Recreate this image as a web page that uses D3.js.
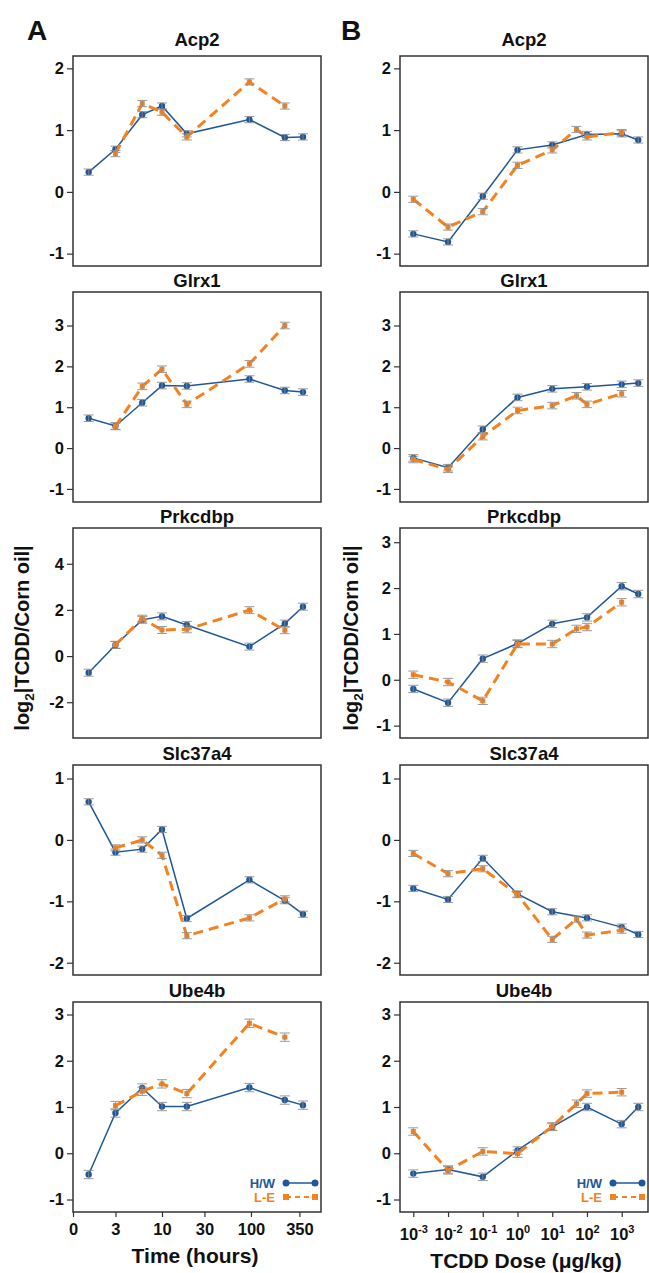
<!DOCTYPE html>
<html>
<head>
<meta charset="utf-8">
<script src="https://cdn.jsdelivr.net/npm/d3@7"></script>
<style>
body { margin: 0; background: #fff; }
text { font-family: "Liberation Sans", Arial, Helvetica, sans-serif; font-weight: bold; fill: #111; }
</style>
</head>
<body>
<svg id="chart"></svg>
<script>
// genes shown in each row
var genes = ['Acp2', 'Glrx1', 'Prkcdbp', 'Slc37a4', 'Ube4b']

// time course (hours) - column A
var timeHW = [1.5, 3, 6, 10, 19, 96, 240, 384]
var timeLE = [3, 6, 10, 19, 96, 240]
var timeValsHW = [
  [0.32, 0.69, 1.25, 1.39, 0.94, 1.17, 0.88, 0.89],
  [0.73, 0.54, 1.11, 1.53, 1.52, 1.69, 1.41, 1.37],
  [-0.72, 0.48, 1.57, 1.72, 1.35, 0.41, 1.41, 2.14],
  [0.62, -0.20, -0.15, 0.17, -1.28, -0.65, -0.99, -1.21],
  [-0.46, 0.87, 1.41, 1.01, 1.01, 1.42, 1.15, 1.04]
]
var timeValsLE = [
  [0.62, 1.43, 1.29, 0.89, 1.78, 1.39],
  [0.53, 1.51, 1.93, 1.07, 2.06, 3.00],
  [0.49, 1.62, 1.13, 1.16, 1.99, 1.12],
  [-0.13, 0.00, -0.25, -1.56, -1.27, -0.96],
  [1.03, 1.34, 1.50, 1.29, 2.81, 2.51]
]
var timeErr = [0.05, 0.08, 0.15, 0.05, 0.09]

// dose response (ug/kg) - column B
var doseHW = [0.001, 0.01, 0.1, 1, 10, 100, 1000, 3000]
var doseLE = [0.001, 0.01, 0.1, 1, 10, 50, 100, 1000]
var doseValsHW = [
  [-0.68, -0.81, -0.07, 0.68, 0.76, 0.93, 0.94, 0.84],
  [-0.24, -0.48, 0.46, 1.24, 1.45, 1.50, 1.56, 1.59],
  [-0.20, -0.50, 0.46, 0.79, 1.22, 1.36, 2.04, 1.87],
  [-0.79, -0.97, -0.30, -0.88, -1.17, -1.27, -1.42, -1.54],
  [-0.44, -0.35, -0.51, 0.06, 0.57, 1.00, 0.63, 1.00]
]
var doseValsLE = [
  [-0.12, -0.57, -0.32, 0.43, 0.68, 1.01, 0.89, 0.96],
  [-0.28, -0.52, 0.28, 0.92, 1.04, 1.28, 1.07, 1.33],
  [0.11, -0.05, -0.46, 0.78, 0.78, 1.11, 1.15, 1.69],
  [-0.22, -0.55, -0.47, -0.89, -1.62, -1.29, -1.55, -1.47],
  [0.47, -0.37, 0.04, -0.01, 0.58, 1.07, 1.29, 1.32]
]
var doseErr = [0.05, 0.08, 0.08, 0.05, 0.08]

// axes
var yDomainsA = [[-1.2, 2.2], [-1.32, 3.82], [-3.55, 5.55], [-2.2, 1.22], [-1.27, 3.27]]
var yDomainsB = [[-1.2, 2.2], [-1.32, 3.82], [-1.27, 3.31], [-2.2, 1.22], [-1.27, 3.27]]
var yTicksA = [[-1, 0, 1, 2], [-1, 0, 1, 2, 3], [-2, 0, 2, 4], [-2, -1, 0, 1], [-1, 0, 1, 2, 3]]
var yTicksB = [[-1, 0, 1, 2], [-1, 0, 1, 2, 3], [-1, 0, 1, 2, 3], [-2, -1, 0, 1], [-1, 0, 1, 2, 3]]
var timeTicks = [1, 3, 10, 30, 100, 350]
var timeTickLabels = ['0', '3', '10', '30', '100', '350']
var doseTicks = [-3, -2, -1, 0, 1, 2, 3]

var svgWidth = 649, svgHeight = 1273
var panelW = 248, panelH = 210
var colLeft = [73, 400]
var rowTop = [56, 292, 528, 765, 1002]
var blue = '#1f5799', orange = '#f58220', errGrey = '#8a8a8a'

var svg = d3.select('#chart')
  .attr('width', svgWidth)
  .attr('height', svgHeight)

var xTime = d3.scaleLog().domain([1, 612]).range([0, panelW])
var xDose = d3.scaleLog().domain([Math.pow(10, -3.383), Math.pow(10, 3.757)]).range([0, panelW])

function drawSeries(g, x, y, xs, ys, err, color, dashed, square) {
  var pts = xs.map(function(d, i) { return [d, ys[i]] })
  var line = d3.line()
    .x(function(d) { return x(d[0]) })
    .y(function(d) { return y(d[1]) })
  g.append('path')
    .datum(pts)
    .attr('d', line)
    .attr('fill', 'none')
    .attr('stroke', color)
    .attr('stroke-width', dashed ? 3 : 1.5)
    .attr('stroke-dasharray', dashed ? '10,6' : null)

  if (square) {
    g.selectAll(null).data(pts).enter().append('rect')
      .attr('x', function(d) { return x(d[0]) - 2.5 })
      .attr('y', function(d) { return y(d[1]) - 2.5 })
      .attr('width', 5).attr('height', 5)
      .attr('fill', color)
  } else {
    g.selectAll(null).data(pts).enter().append('circle')
      .attr('cx', function(d) { return x(d[0]) })
      .attr('cy', function(d) { return y(d[1]) })
      .attr('r', 3.2)
      .attr('fill', color)
  }

  // error bars on top, grey like the original
  var eb = g.selectAll(null).data(pts).enter().append('g')
    .attr('stroke', errGrey).attr('stroke-width', 1).attr('opacity', 0.85)
  eb.append('line')
    .attr('x1', function(d) { return x(d[0]) }).attr('x2', function(d) { return x(d[0]) })
    .attr('y1', function(d) { return y(d[1] - err) }).attr('y2', function(d) { return y(d[1] + err) })
  eb.append('line')
    .attr('x1', function(d) { return x(d[0]) - 5 }).attr('x2', function(d) { return x(d[0]) + 5 })
    .attr('y1', function(d) { return y(d[1] + err) }).attr('y2', function(d) { return y(d[1] + err) })
  eb.append('line')
    .attr('x1', function(d) { return x(d[0]) - 5 }).attr('x2', function(d) { return x(d[0]) + 5 })
    .attr('y1', function(d) { return y(d[1] - err) }).attr('y2', function(d) { return y(d[1] - err) })
}

function drawLegend(g) {
  var r = panelW
  var items = [
    { label: 'H/W', color: blue, dashed: false, y: panelH - 29 },
    { label: 'L-E', color: orange, dashed: true, y: panelH - 15 }
  ]
  items.forEach(function(it) {
    g.append('text')
      .attr('x', r - 46).attr('y', it.y + 4.5)
      .attr('text-anchor', 'end')
      .style('font-size', '13px')
      .style('fill', it.color)
      .text(it.label)
    g.append('line')
      .attr('x1', r - 35).attr('x2', r - 6)
      .attr('y1', it.y).attr('y2', it.y)
      .attr('stroke', it.color)
      .attr('stroke-width', it.dashed ? 2 : 1.5)
      .attr('stroke-dasharray', it.dashed ? '5,4' : null)
    ;[r - 35, r - 6].forEach(function(cx) {
      if (it.dashed) {
        g.append('rect').attr('x', cx - 3).attr('y', it.y - 3).attr('width', 6).attr('height', 6).attr('fill', it.color)
      } else {
        g.append('circle').attr('cx', cx).attr('cy', it.y).attr('r', 3.5).attr('fill', it.color)
      }
    })
  })
}

function styleAxis(ax) {
  ax.select('.domain').remove()
  ax.selectAll('.tick line').attr('stroke', '#333').attr('stroke-width', 1.2)
  ax.selectAll('.tick text').style('font-size', '16.5px').style('font-weight', 'bold').attr('fill', '#111')
}

for (var col = 0; col < 2; col++) {
  for (var row = 0; row < genes.length; row++) {
    var g = svg.append('g')
      .attr('transform', 'translate(' + colLeft[col] + ',' + rowTop[row] + ')')
    var y = d3.scaleLinear()
      .domain(col === 0 ? yDomainsA[row] : yDomainsB[row])
      .range([panelH, 0])
    var x = col === 0 ? xTime : xDose

    // title
    g.append('text')
      .attr('x', panelW / 2)
      .attr('y', row === 0 ? -10 : -5)
      .attr('text-anchor', 'middle')
      .style('font-size', '18.5px')
      .text(genes[row])

    // y axis
    var yAx = g.append('g')
      .call(d3.axisLeft(y)
        .tickValues(col === 0 ? yTicksA[row] : yTicksB[row])
        .tickSize(6).tickPadding(3)
        .tickFormat(function(d) { return String(d) }))
    styleAxis(yAx)

    // data
    if (col === 0) {
      drawSeries(g, x, y, timeHW, timeValsHW[row], timeErr[row], blue, false, false)
      drawSeries(g, x, y, timeLE, timeValsLE[row], timeErr[row], orange, true, true)
    } else {
      drawSeries(g, x, y, doseHW, doseValsHW[row], doseErr[row], blue, false, false)
      drawSeries(g, x, y, doseLE, doseValsLE[row], doseErr[row], orange, true, true)
    }

    // box
    g.append('rect')
      .attr('width', panelW).attr('height', panelH)
      .attr('fill', 'none').attr('stroke', '#333').attr('stroke-width', 1.5)

    // bottom row gets x axis + legend
    if (row === genes.length - 1) {
      var xAx = g.append('g').attr('transform', 'translate(0,' + panelH + ')')
      if (col === 0) {
        xAx.call(d3.axisBottom(xTime)
          .tickValues(timeTicks).tickSize(5).tickPadding(6)
          .tickFormat(function(d, i) { return timeTickLabels[i] }))
        styleAxis(xAx)
      } else {
        xAx.call(d3.axisBottom(xDose)
          .tickValues(doseTicks.map(function(k) { return Math.pow(10, k) }))
          .tickSize(5).tickPadding(8)
          .tickFormat(''))
        styleAxis(xAx)
        xAx.selectAll('.tick').each(function(d, i) {
          var t = d3.select(this).append('text')
            .attr('y', 28).attr('text-anchor', 'middle').attr('fill', '#111')
            .style('font-size', '16.5px')
          t.append('tspan').text('10')
          t.append('tspan').attr('dy', -7).style('font-size', '11px').text(doseTicks[i])
        })
      }
      drawLegend(g)
    }
  }
}

// panel letters
svg.append('text').attr('x', 27).attr('y', 40).style('font-size', '28px').text('A')
svg.append('text').attr('x', 341).attr('y', 40).style('font-size', '28px').text('B')

// y axis labels
;[29, 358].forEach(function(xPos) {
  var t = svg.append('text')
    .attr('transform', 'translate(' + xPos + ',638) rotate(-90)')
    .attr('text-anchor', 'middle')
    .style('font-size', '20px')
  t.append('tspan').text('log')
  t.append('tspan').attr('dy', 5).style('font-size', '13.5px').text('2')
  t.append('tspan').attr('dy', -5).text('|TCDD/Corn oil|')
})

// x axis titles
svg.append('text').attr('x', 195).attr('y', 1263).attr('text-anchor', 'middle')
  .style('font-size', '21px').text('Time (hours)')
svg.append('text').attr('x', 526).attr('y', 1268).attr('text-anchor', 'middle')
  .style('font-size', '21px').text('TCDD Dose (\u03bcg/kg)')
</script>
</body>
</html>
